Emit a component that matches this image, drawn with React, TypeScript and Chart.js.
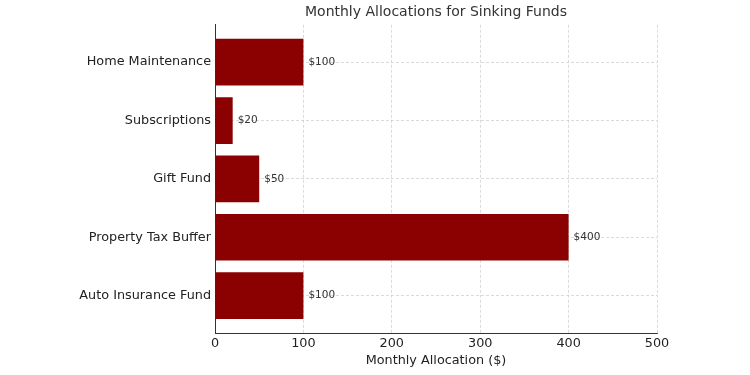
import React, { useEffect, useRef } from "react";
import { Chart, registerables } from "chart.js";

Chart.register(...registerables);

const categories = [
  "Home Maintenance",
  "Subscriptions",
  "Gift Fund",
  "Property Tax Buffer",
  "Auto Insurance Fund",
];
const allocations = [100, 20, 50, 400, 100];
const xTicks = [0, 100, 200, 300, 400, 500];

const FONT = "'DejaVu Sans', sans-serif";

export default function App() {
  const ref = useRef<HTMLCanvasElement | null>(null);

  useEffect(() => {
    if (!ref.current) return;
    const labelPlugin = {
      id: "valueLabels",
      afterDatasetsDraw(chart: any) {
        const ctx = chart.ctx;
        const meta = chart.getDatasetMeta(0);
        ctx.save();
        ctx.font = `10.5px ${FONT}`;
        ctx.fillStyle = "#333333";
        ctx.textAlign = "left";
        ctx.textBaseline = "middle";
        meta.data.forEach((el: any, i: number) => {
          ctx.fillText(`$${allocations[i]}`, el.x + 5, el.y);
        });
        ctx.restore();
      },
    };

    const chart = new Chart(ref.current, {
      type: "bar",
      data: {
        datasets: [
          {
            data: allocations.map((v, i) => ({ x: v, y: i })),
            backgroundColor: "#8B0000",
            borderWidth: 0,
            categoryPercentage: 0.8,
            barPercentage: 1,
          },
        ],
      },
      options: {
        indexAxis: "y",
        animation: false,
        responsive: false,
        maintainAspectRatio: false,
        layout: { padding: { left: 0, right: 93, top: 0, bottom: 0 } },
        plugins: {
          legend: { display: false },
          tooltip: { enabled: false },
          title: {
            display: true,
            text: "Monthly Allocations for Sinking Funds",
            fullSize: false,
            color: "#333333",
            font: { family: FONT, size: 14, weight: "normal" },
            padding: { top: 4, bottom: 4 },
          },
        },
        scales: {
          x: {
            type: "linear",
            min: 0,
            max: 500,
            z: 1,
            offset: false,
            afterBuildTicks: (scale: any) => {
              scale.ticks = xTicks.map((v) => ({ value: v }));
            },
            afterFit: (scale: any) => {
              scale.height = 42;
            },
            grid: {
              color: "rgba(190,190,190,0.8)",
              lineWidth: 0.7,
              drawTicks: false,
              offset: false,
            },
            border: { display: true, color: "#333333", width: 1, dash: [3, 2] },
            ticks: {
              color: "#222222",
              font: { family: FONT, size: 12.8 },
              padding: 3,
              maxRotation: 0,
            },
            title: {
              display: true,
              text: "Monthly Allocation ($)",
              color: "#222222",
              font: { family: FONT, size: 12.8 },
              padding: { top: 0, bottom: 7 },
            },
          },
          y: {
            type: "linear",
            min: -0.64,
            max: 4.64,
            reverse: true,
            z: 1,
            offset: false,
            afterBuildTicks: (scale: any) => {
              scale.ticks = categories.map((_, i) => ({ value: i }));
            },
            afterFit: (scale: any) => {
              scale.width = 215;
            },
            grid: {
              color: "rgba(190,190,190,0.8)",
              lineWidth: 0.7,
              drawTicks: false,
              offset: false,
            },
            border: { display: true, color: "#333333", width: 1, dash: [3, 2] },
            ticks: {
              color: "#222222",
              font: { family: FONT, size: 12.8 },
              padding: 4,
              callback: (v: any) => categories[v as number] ?? "",
            },
          },
        },
      },
      plugins: [labelPlugin],
    } as any);

    return () => chart.destroy();
  }, []);

  return (
    <div style={{ position: "fixed", left: 0, top: 0, width: 750, height: 375, background: "#fff" }}>
      <canvas ref={ref} width={750} height={375} style={{ width: 750, height: 375 }} />
    </div>
  );
}
